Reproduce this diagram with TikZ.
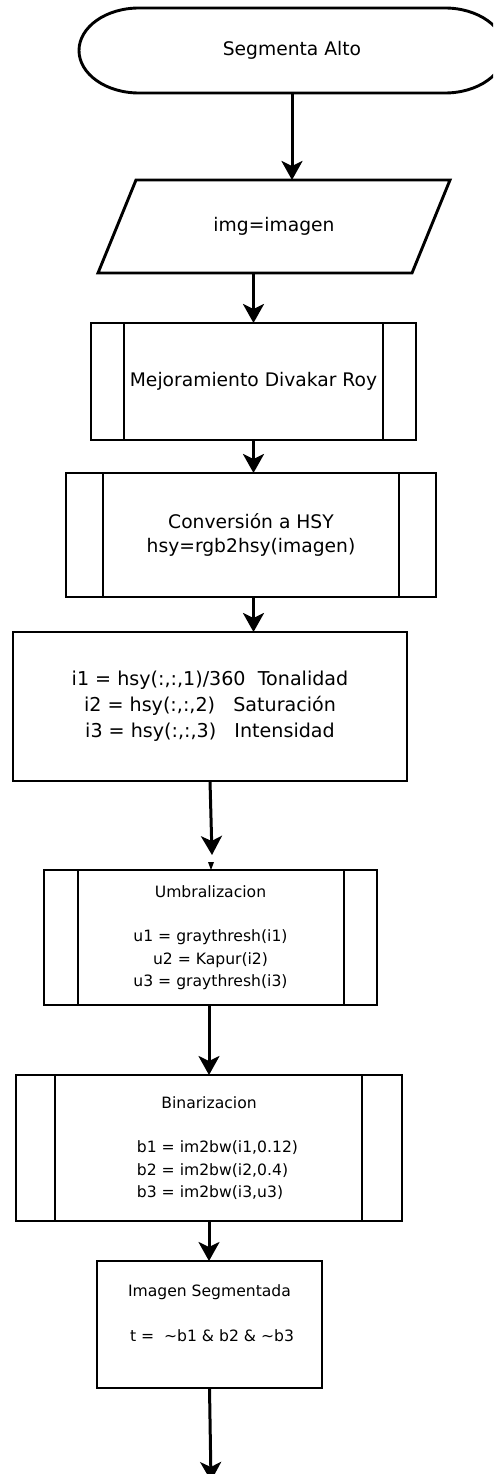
\documentclass[tikz,border=0pt]{standalone}
\usepackage{fontspec}
\setmainfont{DejaVu Sans}
\usetikzlibrary{arrows.meta}
\newlength{\blkwd}
\begin{document}
\begin{tikzpicture}[x=1pt,y=-1pt,
  ln/.style={line width=2.9pt},
  shell/.style={rectangle, inner sep=0pt, outer sep=0pt, align=center},
  box/.style={shell, draw, line width=2.9pt},
  arr/.style={line width=3pt, -{Stealth[length=19pt,width=21pt,inset=5pt]}},
  bigtxt/.style={font=\fontsize{18.7}{24}\selectfont},
  midtxt/.style={font=\fontsize{19.1}{26}\selectfont},
  smltxt/.style={font=\fontsize{15.6}{22.3}\selectfont}]

\useasboundingbox (0,0) rectangle (493,1474);
\clip (0,0) rectangle (493,1474);

% start terminator
\node[shell, bigtxt, minimum width=426pt, minimum height=85pt] (start) at (292,50.5) {\raisebox{-3pt}{Segmenta Alto}};
\draw[ln] ([xshift=60pt]start.north west) -- ([xshift=-60pt]start.north east)
  arc[start angle=90, end angle=-90, x radius=60pt, y radius=42.5pt]
  -- ([xshift=60pt]start.south west)
  arc[start angle=270, end angle=90, x radius=60pt, y radius=42.5pt] -- cycle;

% input parallelogram
\node[shell, bigtxt, minimum width=352pt, minimum height=93pt] (inp) at (274,226.5) {img=imagen};
\draw[ln, line join=miter] ([xshift=38pt]inp.north west) -- (inp.north east)
  -- ([xshift=-38pt]inp.south east) -- (inp.south west) -- cycle;

% enhancement subprocess
\node[box, bigtxt, minimum width=325pt, minimum height=117pt] (mejora) at (253.5,381.5) {Mejoramiento Divakar Roy};
\draw[ln] ([xshift=33pt]mejora.north west) -- ([xshift=33pt]mejora.south west);
\draw[ln] ([xshift=-33pt]mejora.north east) -- ([xshift=-33pt]mejora.south east);

% HSY conversion subprocess
\node[box, bigtxt, minimum width=370pt, minimum height=124pt] (hsy) at (251,535) {Conversión a HSY\\hsy=rgb2hsy(imagen)};
\draw[ln] ([xshift=37pt]hsy.north west) -- ([xshift=37pt]hsy.south west);
\draw[ln] ([xshift=-37pt]hsy.north east) -- ([xshift=-37pt]hsy.south east);

% channel extraction
\node[box, midtxt, minimum width=394pt, minimum height=149pt] (canal) at (210,706.5)
  {i1 = hsy(:,:,1)/360\ \ Tonalidad\\i2 = hsy(:,:,2)\ \ \ Saturación\\i3 = hsy(:,:,3)\ \ \ Intensidad};

% thresholding subprocess
\node[box, smltxt, minimum width=333pt, minimum height=135pt] (umbral) at (210.5,937.5)
  {Umbralizacion\\[22.3pt]u1 = graythresh(i1)\\u2 = Kapur(i2)\\u3 = graythresh(i3)};
\draw[ln] ([xshift=34pt]umbral.north west) -- ([xshift=34pt]umbral.south west);
\draw[ln] ([xshift=-33pt]umbral.north east) -- ([xshift=-33pt]umbral.south east);
% small tip resting on the top edge
\fill ([xshift=-2.5pt,yshift=8pt]umbral.north) -- ([xshift=3.5pt,yshift=8pt]umbral.north)
  -- ([xshift=0.5pt]umbral.north) -- cycle;

% binarization subprocess: value lines share one left edge
\node[box, smltxt, minimum width=386pt, minimum height=146pt] (binar) at (209,1148)
  {{\settowidth{\blkwd}{b1 = im2bw(i1,0.12)}\global\blkwd=\blkwd}%
   Binarizacion\\[22.3pt]%
   \hspace*{17pt}\makebox[\blkwd][l]{b1 = im2bw(i1,0.12)}\\
   \hspace*{17pt}\makebox[\blkwd][l]{b2 = im2bw(i2,0.4)}\\
   \hspace*{17pt}\makebox[\blkwd][l]{b3 = im2bw(i3,u3)}};
\draw[ln] ([xshift=39pt]binar.north west) -- ([xshift=39pt]binar.south west);
\draw[ln] ([xshift=-40pt]binar.north east) -- ([xshift=-40pt]binar.south east);

% segmented result
\node[box, smltxt, minimum width=225pt, minimum height=127pt] (segm) at (209.5,1324.5)
  {Imagen Segmentada\\[22.3pt]\hspace*{5pt}t =\ \ \textasciitilde b1 \& b2 \& \textasciitilde b3\\\mbox{}};

\coordinate (fin) at (211,1481);

% connectors
\draw[arr] (start.south) -- (start.south |- inp.north);
\draw[arr] (mejora.north |- inp.south) -- (mejora.north);
\draw[arr] (mejora.south) -- (mejora.south |- hsy.north);
\draw[arr] (mejora.south |- hsy.south) -- (mejora.south |- canal.north);
\draw[arr] (canal.south) -- ([xshift=1.5pt,yshift=15pt]umbral.north);
\draw[arr] (binar.north |- umbral.south) -- (binar.north);
\draw[arr] (binar.south) -- (binar.south |- segm.north);
\draw[arr] (segm.south) -- (fin);
\end{tikzpicture}
\end{document}
